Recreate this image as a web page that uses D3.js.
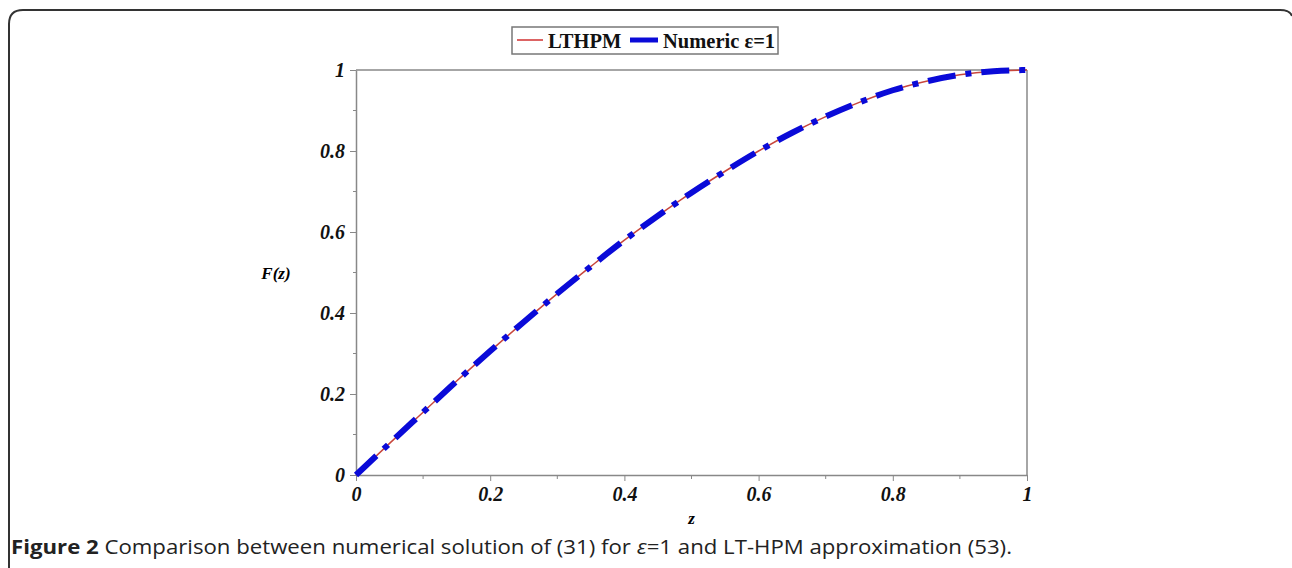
<!DOCTYPE html>
<meta charset="utf-8">
<style>
body { margin: 0; background: #fff; }
.tick text { font-family: "Liberation Serif", serif; font-weight: bold; font-style: italic; font-size: 20px; fill: #111; }
.axis path, .axis line { stroke: #888; }
.legend text { font-family: "Liberation Serif", serif; font-weight: bold; font-size: 20.5px; fill: #111; }
.caption { font-family: "Open Sans", sans-serif; font-size: 19.5px; fill: #222; }
</style>
<body>
<script src="https://cdn.jsdelivr.net/npm/d3@7"></script>
<script>
// values
var zValues = [0, 0.05, 0.1, 0.15, 0.2, 0.25, 0.3, 0.35, 0.4, 0.45, 0.5, 0.55, 0.6, 0.65, 0.7, 0.75, 0.8, 0.85, 0.9, 0.95, 1];
var lthpm   = [0, 0.078, 0.155, 0.232, 0.306, 0.378, 0.448, 0.515, 0.58, 0.64, 0.697, 0.75, 0.8, 0.845, 0.885, 0.92, 0.95, 0.972, 0.988, 0.997, 1.0];
var numeric = [0, 0.078, 0.155, 0.232, 0.306, 0.378, 0.448, 0.515, 0.58, 0.64, 0.697, 0.75, 0.8, 0.845, 0.885, 0.92, 0.95, 0.972, 0.988, 0.997, 1.0];
var xTicks = [0, 0.2, 0.4, 0.6, 0.8, 1];
var yTicks = [0, 0.2, 0.4, 0.6, 0.8, 1];
var minorTicks = [0.1, 0.3, 0.5, 0.7, 0.9];
var legendLabels = ["LTHPM", "Numeric \u03b5=1"];

var W = 1292, H = 568;
var svg = d3.select("body").append("svg")
  .attr("width", W)
  .attr("height", H);

// outer figure frame (rounded top corners, open bottom)
svg.append("path")
  .attr("d", "M9," + H + " L9,24 Q9,10 23,10 L1280,10 Q1290,10 1292,16")
  .attr("fill", "none")
  .attr("stroke", "#333")
  .attr("stroke-width", 2);

var x = d3.scaleLinear().domain([0, 1]).range([356, 1027]);
var y = d3.scaleLinear().domain([0, 1]).range([475, 70]);

var fmt = function(d) { return d === 0 ? "0" : d === 1 ? "1" : d3.format(".1f")(d); };

// frame lines of the plot box (top and right)
svg.append("line")
  .attr("x1", x(0)).attr("x2", x(1)).attr("y1", y(1)).attr("y2", y(1))
  .attr("stroke", "#888").attr("stroke-width", 1.5);
svg.append("line")
  .attr("x1", x(1)).attr("x2", x(1)).attr("y1", y(1)).attr("y2", y(0))
  .attr("stroke", "#888").attr("stroke-width", 1.5);

var xAxis = svg.append("g")
  .attr("class", "axis")
  .attr("transform", "translate(0," + y(0) + ")")
  .call(d3.axisBottom(x).tickValues(xTicks).tickFormat(fmt).tickSize(6).tickPadding(6).tickSizeOuter(0));
xAxis.select(".domain").attr("stroke-width", 1.5);

var yAxis = svg.append("g")
  .attr("class", "axis")
  .attr("transform", "translate(" + x(0) + ",0)")
  .call(d3.axisLeft(y).tickValues(yTicks).tickFormat(fmt).tickSize(6).tickPadding(5).tickSizeOuter(0));
yAxis.select(".domain").attr("stroke-width", 1.5);

// minor ticks
svg.append("g").selectAll("line")
  .data(minorTicks).enter().append("line")
  .attr("x1", function(d) { return x(d); })
  .attr("x2", function(d) { return x(d); })
  .attr("y1", y(0)).attr("y2", y(0) + 4)
  .attr("stroke", "#888");
svg.append("g").selectAll("line")
  .data(minorTicks).enter().append("line")
  .attr("y1", function(d) { return y(d); })
  .attr("y2", function(d) { return y(d); })
  .attr("x1", x(0) - 3).attr("x2", x(0))
  .attr("stroke", "#888");

// axis titles
svg.append("text")
  .attr("x", 276).attr("y", y(0.5) + 6)
  .attr("text-anchor", "middle")
  .style("font-family", "Liberation Serif, serif")
  .style("font-weight", "bold").style("font-style", "italic")
  .style("font-size", "17px")
  .text("F(z)");
svg.append("text")
  .attr("x", x(0.5)).attr("y", 524)
  .attr("text-anchor", "middle")
  .style("font-family", "Liberation Serif, serif")
  .style("font-weight", "bold").style("font-style", "italic")
  .style("font-size", "17px")
  .text("z");

var line = d3.line()
  .x(function(d) { return x(d[0]); })
  .y(function(d) { return y(d[1]); })
  .curve(d3.curveMonotoneX);

svg.append("path")
  .datum(d3.zip(zValues, lthpm))
  .attr("d", line)
  .attr("fill", "none")
  .attr("stroke", "#c8463c")
  .attr("stroke-width", 1.5);

svg.append("path")
  .datum(d3.zip(zValues, numeric))
  .attr("d", line)
  .attr("fill", "none")
  .attr("stroke", "#0a0ad8")
  .attr("stroke-width", 6)
  .attr("stroke-dasharray", "28,10,6,10");

// legend
var legend = svg.append("g").attr("class", "legend");
legend.append("rect")
  .attr("x", 512).attr("y", 27).attr("width", 266).attr("height", 27)
  .attr("fill", "#fff").attr("stroke", "#777").attr("stroke-width", 1.5);
legend.append("line")
  .attr("x1", 517).attr("x2", 543).attr("y1", 40).attr("y2", 40)
  .attr("stroke", "#d03030").attr("stroke-width", 1.5);
legend.append("text").attr("x", 548).attr("y", 48).text(legendLabels[0]);
legend.append("line")
  .attr("x1", 630).attr("x2", 658).attr("y1", 40).attr("y2", 40)
  .attr("stroke", "#0a0ad8").attr("stroke-width", 5);
legend.append("text").attr("x", 663).attr("y", 48).text(legendLabels[1]);

// caption
var cap = svg.append("text")
  .attr("class", "caption")
  .attr("x", 11).attr("y", 554)
  .attr("textLength", 1001)
  .attr("lengthAdjust", "spacingAndGlyphs");
cap.append("tspan").style("font-weight", "bold").text("Figure 2");
cap.append("tspan").text(" Comparison between numerical solution of (31) for ");
cap.append("tspan").style("font-style", "italic").text("\u03b5");
cap.append("tspan").text("=1 and LT-HPM approximation (53).");
</script>
</body>
